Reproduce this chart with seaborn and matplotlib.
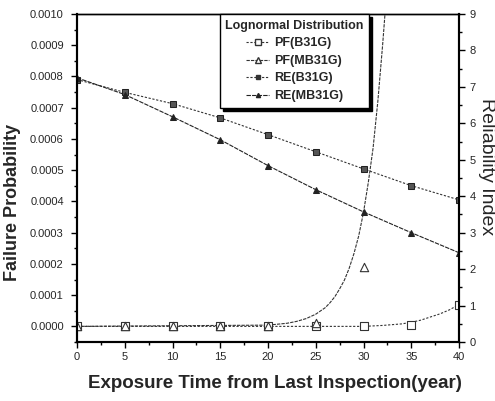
import matplotlib
matplotlib.use("Agg")
import matplotlib.pyplot as plt
import seaborn as sns
import numpy as np
from matplotlib.lines import Line2D
from matplotlib.ticker import MultipleLocator, FormatStrFormatter

# ---------------- data ----------------
years = [0, 5, 10, 15, 20, 25, 30, 35, 40]
re_b31g = [7.2, 6.85, 6.54, 6.15, 5.69, 5.22, 4.75, 4.29, 3.9]
re_mb31g = [7.25, 6.79, 6.18, 5.55, 4.84, 4.18, 3.57, 3.0, 2.45]

pf_b31g_pts = [0.0, 0.0, 0.0, 0.0, 0.0, 0.0, 0.0, 0.000006, 0.00007]
pf_mb31g_years = [0, 5, 10, 15, 20, 25, 30]
pf_mb31g_pts = [0.0, 0.0, 0.0, 0.0, 0.0, 0.00001, 0.00019]

# fitted curves
pf_b31g_curve_x = [0, 30, 32, 34, 35, 36, 37, 38, 39, 40]
pf_b31g_curve_y = [0.0, 0.0, 0.000003, 0.000008, 0.000013, 0.00002, 0.00003, 0.00004, 0.000053, 0.00007]
pf_mb31g_curve_x = [0, 20, 22, 23, 24, 25, 26, 26.5, 27, 27.5, 28, 28.5, 29, 29.5,
                    30, 30.5, 31, 31.5, 32, 32.5]
pf_mb31g_curve_y = [0.0, 0.000004, 0.00001, 0.000016, 0.000025, 0.000039, 0.00006,
                    0.000076, 0.000095, 0.00012, 0.000148, 0.000186, 0.000233,
                    0.00029, 0.000365, 0.00046, 0.00057, 0.00072, 0.0009, 0.0011]

legend_title = "Lognormal Distribution"
labels = ["PF(B31G)", "PF(MB31G)", "RE(B31G)", "RE(MB31G)"]

# ---------------- style ----------------
sns.set_style("ticks")
plt.rcParams['font.family'] = ['Liberation Sans', 'DejaVu Sans']
plt.rcParams['xtick.major.size'] = 4.5
plt.rcParams['ytick.major.size'] = 4.5
plt.rcParams['xtick.minor.size'] = 2.5
plt.rcParams['ytick.minor.size'] = 2.5

fig = plt.figure(figsize=(4.95, 4.01), dpi=100)
ax = fig.add_axes([77 / 495, 59 / 401, 382 / 495, 328 / 401])
ax2 = ax.twinx()

# PF curves and points on left axis
sns.lineplot(x=pf_b31g_curve_x, y=pf_b31g_curve_y, ax=ax, color="#333333",
             linestyle=(0, (2, 1.5)), linewidth=0.8, estimator=None)
sns.lineplot(x=pf_mb31g_curve_x, y=pf_mb31g_curve_y, ax=ax, color="#333333",
             linestyle=(0, (3, 1)), linewidth=0.8, estimator=None)
sns.scatterplot(x=years, y=pf_b31g_pts, ax=ax, marker="s", s=28,
                facecolor="white", edgecolor="#333333", linewidth=0.8, zorder=5)
sns.scatterplot(x=pf_mb31g_years, y=pf_mb31g_pts, ax=ax, marker="^", s=36,
                facecolor="white", edgecolor="#333333", linewidth=0.8, zorder=5)

# RE lines on right axis
sns.lineplot(x=years, y=re_b31g, ax=ax2, color="#333333", linestyle=(0, (2, 1.5)),
             linewidth=0.8, marker="s", markersize=4.5, markerfacecolor="#555555",
             markeredgecolor="#222222", estimator=None)
sns.lineplot(x=years, y=re_mb31g, ax=ax2, color="#222222", linestyle=(0, (4, 1)),
             linewidth=0.8, marker="^", markersize=4.5, markerfacecolor="#222222",
             markeredgecolor="#222222", estimator=None)

# axes limits and ticks
ax.set_xlim(0, 40)
ax.set_ylim(-0.00005, 0.0010)
ax2.set_ylim(0, 9)
ax.xaxis.set_major_locator(MultipleLocator(5))
ax.xaxis.set_minor_locator(MultipleLocator(2.5))
ax.yaxis.set_major_locator(MultipleLocator(0.0001))
ax.yaxis.set_minor_locator(MultipleLocator(0.00005))
ax.yaxis.set_major_formatter(FormatStrFormatter("%.4f"))
ax2.yaxis.set_major_locator(MultipleLocator(1))
ax2.yaxis.set_minor_locator(MultipleLocator(0.5))
for a in (ax, ax2):
    a.tick_params(axis="both", which="both", labelsize=8, color="black", width=1.0,
                  direction="out", pad=3)
    for sp in a.spines.values():
        sp.set_visible(True)
        sp.set_color("black")
    a.spines["left"].set_linewidth(1.5)
    a.spines["bottom"].set_linewidth(1.5)
    a.spines["right"].set_linewidth(1.5)
    a.spines["top"].set_linewidth(1.0)
ax.tick_params(axis="y", which="both", pad=5)

ax.set_xlabel("Exposure Time from Last Inspection(year)", fontsize=13.5,
              fontweight="bold", va="center")
ax.xaxis.set_label_coords(0.518, -0.125)
ax.set_ylabel("Failure Probability", fontsize=13, fontweight="bold", va="center")
ax.yaxis.set_label_coords(-0.168, 0.427)
ax2.set_ylabel("Reliability Index", fontsize=14, rotation=270, va="center")
ax2.yaxis.set_label_coords(1.0707, 0.534)

# legend
handles = [
    Line2D([], [], color="#333333", linestyle=(0, (2, 1.5)), linewidth=0.8, marker="s",
           markersize=4, markerfacecolor="white", markeredgecolor="#333333"),
    Line2D([], [], color="#333333", linestyle=(0, (3, 1)), linewidth=0.8, marker="^",
           markersize=4, markerfacecolor="white", markeredgecolor="#333333"),
    Line2D([], [], color="#333333", linestyle=(0, (2, 1.5)), linewidth=0.8, marker="s",
           markersize=3, markerfacecolor="#333333", markeredgecolor="#333333"),
    Line2D([], [], color="#222222", linestyle=(0, (4, 1)), linewidth=0.8, marker="^",
           markersize=3, markerfacecolor="#222222", markeredgecolor="#222222"),
]
leg = ax2.legend(handles, labels, title=legend_title, loc="upper left",
                 bbox_to_anchor=(0.374, 1.0), borderaxespad=0, fontsize=9,
                 title_fontsize=9, frameon=True, fancybox=False,
                 shadow={"color": "black", "alpha": 1.0},
                 handlelength=1.8, handletextpad=0.4, labelspacing=0.45,
                 borderpad=0.45, markerscale=1.0)
leg.get_frame().set_edgecolor("black")
leg.get_frame().set_linewidth(1.0)
leg.get_title().set_fontweight("bold")
for t in leg.get_texts():
    t.set_fontweight("bold")

fig.savefig("out.png", dpi=100)
